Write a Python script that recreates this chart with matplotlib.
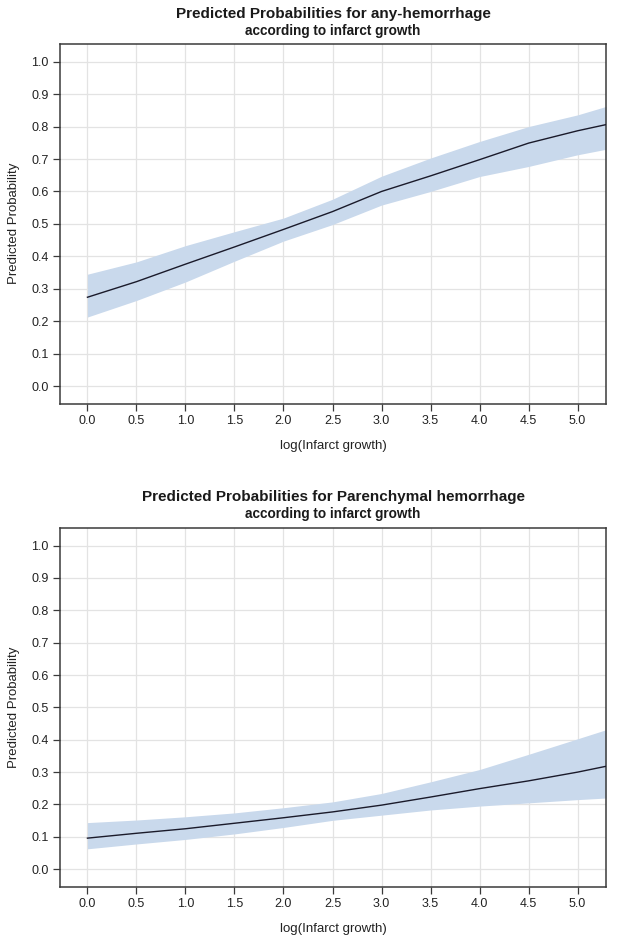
import matplotlib
matplotlib.use("Agg")
import matplotlib.pyplot as plt

plt.rcParams['font.family'] = ['Liberation Sans', 'DejaVu Sans']

# Data
x_vals = [0.0, 0.5, 1.0, 1.5, 2.0, 2.5, 3.0, 3.5, 4.0, 4.5, 5.0, 5.29]

any_pred = [0.274, 0.322, 0.376, 0.429, 0.483, 0.538, 0.600, 0.648, 0.698, 0.749, 0.787, 0.806]
any_lower = [0.213, 0.264, 0.321, 0.385, 0.447, 0.498, 0.558, 0.600, 0.646, 0.677, 0.713, 0.730]
any_upper = [0.345, 0.383, 0.433, 0.476, 0.518, 0.576, 0.647, 0.703, 0.754, 0.800, 0.836, 0.862]

ph_pred = [0.096, 0.111, 0.125, 0.142, 0.159, 0.177, 0.198, 0.223, 0.249, 0.273, 0.300, 0.318]
ph_lower = [0.063, 0.078, 0.092, 0.109, 0.129, 0.151, 0.167, 0.183, 0.195, 0.205, 0.215, 0.220]
ph_upper = [0.144, 0.152, 0.162, 0.174, 0.190, 0.208, 0.234, 0.270, 0.308, 0.355, 0.403, 0.431]

x_ticks = [0.0, 0.5, 1.0, 1.5, 2.0, 2.5, 3.0, 3.5, 4.0, 4.5, 5.0]
y_ticks = [0.0, 0.1, 0.2, 0.3, 0.4, 0.5, 0.6, 0.7, 0.8, 0.9, 1.0]

titles = [("Predicted Probabilities for any-hemorrhage", "according to infarct growth"),
          ("Predicted Probabilities for Parenchymal hemorrhage", "according to infarct growth")]
x_label = "log(Infarct growth)"
y_label = "Predicted Probability"

W, H = 617, 943
fig = plt.figure(figsize=(W / 100, H / 100), dpi=100)

band_color = "#c9d9ec"
line_color = "#1a1a2a"
spine_color = "#3a3a3a"
grid_color = "#e3e3e3"

panels = [
    (any_pred, any_lower, any_upper, 43.5, 404.0, 14.0, 31.0),
    (ph_pred, ph_lower, ph_upper, 527.5, 887.0, 497.0, 514.0),
]
left_px, right_px = 60.0, 606.0

for i, (pred, lo, hi, top_px, bot_px, t1y, t2y) in enumerate(panels):
    ax = fig.add_axes([left_px / W, 1 - bot_px / H, (right_px - left_px) / W, (bot_px - top_px) / H])
    ax.fill_between(x_vals, lo, hi, color=band_color, lw=0, zorder=2)
    ax.plot(x_vals, pred, color=line_color, lw=1.0, zorder=3)
    ax.set_xlim(-0.28, 5.29)
    ax.set_ylim(-0.055, 1.056)
    ax.set_xticks(x_ticks)
    ax.set_yticks(y_ticks)
    ax.set_xticklabels([f"{v:.1f}" for v in x_ticks])
    ax.set_yticklabels([f"{v:.1f}" for v in y_ticks])
    ax.grid(True, color=grid_color, lw=0.9, zorder=0)
    ax.set_axisbelow(True)
    for s in ax.spines.values():
        s.set_color(spine_color)
        s.set_linewidth(1.1)
    ax.tick_params(axis='both', colors=spine_color, labelcolor="#222222", labelsize=9,
                   length=5, width=0.9, pad=3)
    ax.set_xlabel(x_label, fontsize=9.5, color="#222222", labelpad=9)
    ax.set_ylabel(y_label, fontsize=9.5, color="#222222", labelpad=8)
    cx = (left_px + right_px) / 2 / W
    fig.text(cx, 1 - t1y / H, titles[i][0], ha='center', va='center', fontsize=11,
             fontweight='bold', color="#1a1a1a")
    fig.text(cx, 1 - t2y / H, titles[i][1], ha='center', va='center', fontsize=9.8,
             fontweight='bold', color="#1a1a1a")

fig.savefig("out.png", dpi=100)
